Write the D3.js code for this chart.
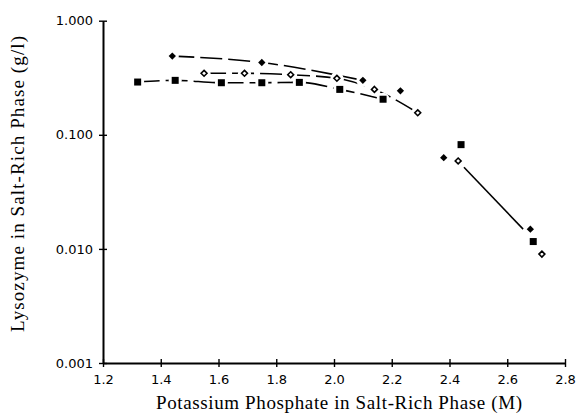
<!DOCTYPE html>
<html>
<head>
<meta charset="utf-8">
<script src="https://cdn.jsdelivr.net/npm/d3@7"></script>
<style>
  body { margin: 0; background: #fff; }
  #chart text { fill: #000; }
</style>
</head>
<body>
<div id="chart"></div>
<script>
// values
const squareX = [1.32, 1.45, 1.61, 1.75, 1.88, 2.02, 2.17, 2.44, 2.69];
const squareY = [0.29, 0.30, 0.286, 0.286, 0.288, 0.25, 0.205, 0.082, 0.0116];
const openX = [1.55, 1.69, 1.85, 2.01, 2.14, 2.29, 2.43, 2.72];
const openY = [0.346, 0.346, 0.336, 0.313, 0.25, 0.156, 0.059, 0.009];
const filledX = [1.44, 1.75, 2.10, 2.23, 2.38, 2.68];
const filledY = [0.49, 0.43, 0.30, 0.243, 0.063, 0.0149];
// the single steep trend line drawn on the right
const trendX = [2.45, 2.655];
const trendY = [0.052, 0.0149];
// how many points of each series the dashed fit runs through
const squareFitN = 7, openFitN = 6, filledFitN = 3;

const xTicks = [1.2, 1.4, 1.6, 1.8, 2.0, 2.2, 2.4, 2.6, 2.8];
const yTicks = [0.001, 0.01, 0.1, 1];

function drawChart() {
    const svg = d3.select('#chart')
        .append('svg')
        .attr('width', 579)
        .attr('height', 418);

    const x = d3.scaleLinear().domain([1.2, 2.8]).range([103, 565]);
    const y = d3.scaleLog().domain([0.001, 1]).range([363, 20.7]);

    // x axis
    const gx = svg.append('g')
        .attr('transform', `translate(0, ${y(0.001)})`)
        .call(d3.axisBottom(x).tickValues(xTicks).tickFormat(d3.format('.1f')).tickSizeOuter(0));
    gx.select('.domain').attr('stroke-width', 2);
    gx.selectAll('.tick line').attr('y1', -4).attr('y2', 4).attr('stroke-width', 1.4);
    gx.selectAll('.tick text')
        .attr('y', 12)
        .style('font-family', 'DejaVu Sans, sans-serif')
        .style('font-size', '13px');

    // y axis
    const gy = svg.append('g')
        .attr('transform', `translate(${x(1.2)}, 0)`)
        .call(d3.axisLeft(y).tickValues(yTicks).tickFormat(d3.format('.3f')).tickSizeOuter(0));
    gy.select('.domain').attr('stroke-width', 2);
    gy.selectAll('.tick line').attr('x1', -4).attr('x2', 4).attr('stroke-width', 1.4);
    gy.selectAll('.tick text')
        .attr('x', -10)
        .style('font-family', 'DejaVu Sans, sans-serif')
        .style('font-size', '13px');

    // axis titles
    svg.append('text')
        .attr('x', 339)
        .attr('y', 409)
        .attr('text-anchor', 'middle')
        .attr('textLength', 366)
        .style('font-family', 'Liberation Serif, serif')
        .style('font-size', '19px')
        .text('Potassium Phosphate in Salt-Rich Phase (M)');

    svg.append('text')
        .attr('transform', 'translate(24, 184) rotate(-90)')
        .attr('text-anchor', 'middle')
        .attr('textLength', 296)
        .style('font-family', 'Liberation Serif, serif')
        .style('font-size', '19px')
        .text('Lysozyme in Salt-Rich Phase (g/l)');

    const line = d3.line()
        .x(d => x(d[0]))
        .y(d => y(d[1]))
        .curve(d3.curveMonotoneX);

    const fits = [
        d3.zip(squareX, squareY).slice(0, squareFitN),
        d3.zip(openX, openY).slice(0, openFitN),
        d3.zip(filledX, filledY).slice(0, filledFitN)
    ];
    svg.selectAll('.fit')
        .data(fits)
        .enter()
        .append('path')
        .attr('class', 'fit')
        .attr('d', line)
        .attr('fill', 'none')
        .attr('stroke', '#000')
        .attr('stroke-width', 1.6)
        .attr('stroke-dasharray', '22,6');

    svg.append('path')
        .attr('d', line(d3.zip(trendX, trendY)))
        .attr('fill', 'none')
        .attr('stroke', '#000')
        .attr('stroke-width', 1.6);

    // white backing so the lines break around each marker, as in the scan
    const all = d3.zip(squareX, squareY).concat(d3.zip(openX, openY), d3.zip(filledX, filledY));
    svg.selectAll('.halo')
        .data(all)
        .enter()
        .append('circle')
        .attr('class', 'halo')
        .attr('cx', d => x(d[0]))
        .attr('cy', d => y(d[1]))
        .attr('r', 6.5)
        .attr('fill', '#fff');

    // markers
    svg.selectAll('.sq')
        .data(d3.zip(squareX, squareY))
        .enter()
        .append('rect')
        .attr('class', 'sq')
        .attr('x', d => x(d[0]) - 3.5)
        .attr('y', d => y(d[1]) - 3.5)
        .attr('width', 7)
        .attr('height', 7)
        .attr('fill', '#000');

    const diamond = d3.symbol().type(d3.symbolDiamond2);
    svg.selectAll('.fd')
        .data(d3.zip(filledX, filledY))
        .enter()
        .append('path')
        .attr('class', 'fd')
        .attr('transform', d => `translate(${x(d[0])}, ${y(d[1])})`)
        .attr('d', diamond.size(34)())
        .attr('fill', '#000');

    svg.selectAll('.od')
        .data(d3.zip(openX, openY))
        .enter()
        .append('path')
        .attr('class', 'od')
        .attr('transform', d => `translate(${x(d[0])}, ${y(d[1])})`)
        .attr('d', diamond.size(22)())
        .attr('fill', '#fff')
        .attr('stroke', '#000')
        .attr('stroke-width', 1.6);
}

drawChart();
</script>
</body>
</html>
